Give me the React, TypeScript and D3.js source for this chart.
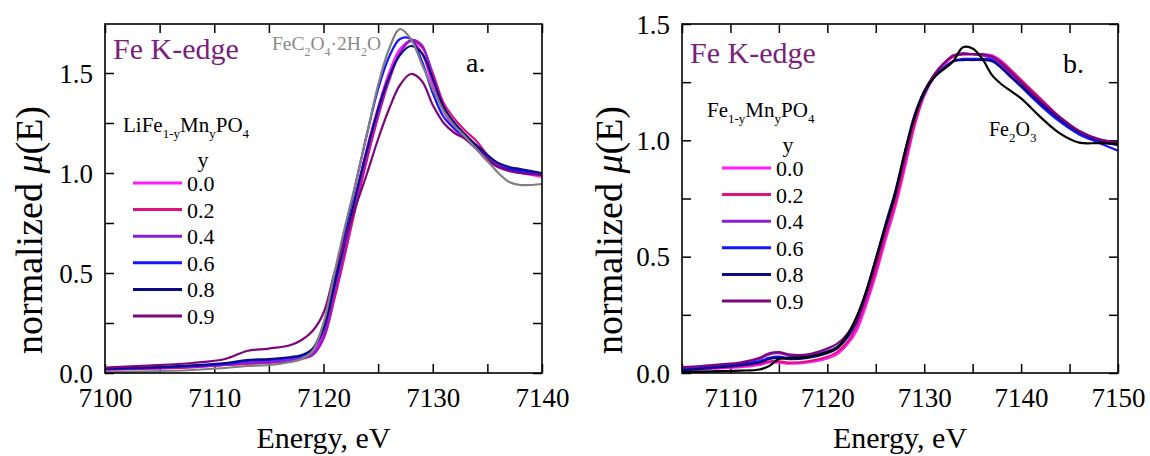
import React, { useEffect, useRef } from "react";
import * as d3 from "d3";

// composition labels (y in LiFe1-yMnyPO4 / Fe1-yMnyPO4) and their colours
const compositions = ["0.0", "0.2", "0.4", "0.6", "0.8", "0.9"];
const seriesColors = ["#ff1aff", "#e0107c", "#8a1ed4", "#1414ff", "#0b0b82", "#7d067d"];

// panel a: LiFe1-yMnyPO4, energy grid (eV)
const energyA = [7100, 7104, 7108, 7111, 7113, 7115, 7117, 7118, 7119, 7120, 7121, 7122, 7123, 7124, 7125, 7126, 7127, 7128, 7129, 7130, 7131, 7132, 7133, 7134, 7135, 7136, 7137, 7138, 7140];
const lfmp00 = [0.015, 0.022, 0.03, 0.04, 0.05, 0.057, 0.065, 0.075, 0.1, 0.2, 0.42, 0.65, 0.9, 1.13, 1.33, 1.5, 1.62, 1.66, 1.6, 1.44, 1.31, 1.22, 1.17, 1.12, 1.06, 1.03, 1.01, 1.0, 0.98];
const lfmp02 = [0.018, 0.022, 0.028, 0.04, 0.045, 0.05, 0.06, 0.07, 0.09, 0.17, 0.37, 0.6, 0.84, 1.07, 1.28, 1.46, 1.6, 1.66, 1.63, 1.5, 1.35, 1.27, 1.21, 1.16, 1.09, 1.04, 1.02, 1.01, 0.99];
const lfmp04 = [0.02, 0.025, 0.032, 0.042, 0.05, 0.055, 0.063, 0.072, 0.09, 0.18, 0.4, 0.63, 0.87, 1.1, 1.3, 1.47, 1.6, 1.665, 1.64, 1.48, 1.33, 1.24, 1.19, 1.13, 1.08, 1.04, 1.02, 1.01, 0.99];
const lfmp06 = [0.02, 0.025, 0.035, 0.045, 0.06, 0.065, 0.075, 0.085, 0.12, 0.24, 0.47, 0.71, 0.96, 1.2, 1.42, 1.58, 1.67, 1.67, 1.56, 1.4, 1.28, 1.22, 1.18, 1.13, 1.07, 1.03, 1.02, 1.01, 0.995];
const lfmp08 = [0.022, 0.028, 0.038, 0.05, 0.065, 0.07, 0.08, 0.09, 0.12, 0.22, 0.44, 0.67, 0.9, 1.12, 1.32, 1.48, 1.59, 1.635, 1.6, 1.47, 1.33, 1.25, 1.19, 1.14, 1.09, 1.05, 1.03, 1.02, 1.0];
const lfmp09 = [0.027, 0.037, 0.05, 0.07, 0.11, 0.122, 0.14, 0.165, 0.21, 0.3, 0.5, 0.67, 0.84, 1.0, 1.17, 1.32, 1.44, 1.495, 1.46, 1.34, 1.25, 1.2, 1.17, 1.12, 1.07, 1.03, 1.01, 1.0, 0.99];
const feOxalate = [0.005, 0.008, 0.015, 0.025, 0.035, 0.04, 0.055, 0.07, 0.11, 0.25, 0.5, 0.74, 0.96, 1.2, 1.44, 1.62, 1.72, 1.67, 1.545, 1.42, 1.31, 1.235, 1.18, 1.12, 1.06, 1.0, 0.955, 0.94, 0.945];

// panel b: Fe1-yMnyPO4, energy grid (eV)
const energyB = [7105, 7107, 7109, 7111, 7113, 7114, 7115, 7116, 7118, 7120, 7121, 7122, 7123, 7124, 7125, 7126, 7127, 7128, 7129, 7130, 7131, 7132, 7133, 7134, 7135, 7136, 7137, 7138, 7139, 7140, 7142, 7144, 7146, 7148, 7150];
const fmp00 = [0.012, 0.016, 0.02, 0.025, 0.035, 0.045, 0.045, 0.04, 0.045, 0.062, 0.08, 0.12, 0.18, 0.29, 0.42, 0.57, 0.71, 0.88, 1.06, 1.19, 1.27, 1.32, 1.36, 1.37, 1.37, 1.37, 1.365, 1.34, 1.3, 1.255, 1.17, 1.09, 1.03, 1.0, 0.985];
const fmp02 = [0.015, 0.02, 0.025, 0.03, 0.04, 0.05, 0.05, 0.045, 0.05, 0.07, 0.09, 0.13, 0.2, 0.31, 0.44, 0.59, 0.73, 0.9, 1.07, 1.2, 1.28, 1.33, 1.36, 1.37, 1.37, 1.37, 1.36, 1.335, 1.3, 1.26, 1.18, 1.1, 1.04, 1.005, 0.99];
const fmp04 = [0.02, 0.027, 0.033, 0.04, 0.06, 0.08, 0.085, 0.075, 0.075, 0.095, 0.11, 0.15, 0.22, 0.33, 0.47, 0.62, 0.76, 0.93, 1.1, 1.21, 1.28, 1.33, 1.365, 1.375, 1.37, 1.365, 1.35, 1.32, 1.28, 1.24, 1.16, 1.09, 1.035, 1.0, 0.98];
const fmp06 = [0.015, 0.022, 0.03, 0.038, 0.05, 0.065, 0.07, 0.065, 0.07, 0.09, 0.11, 0.15, 0.23, 0.35, 0.49, 0.64, 0.78, 0.95, 1.11, 1.21, 1.27, 1.31, 1.34, 1.35, 1.35, 1.35, 1.345, 1.31, 1.27, 1.23, 1.15, 1.08, 1.025, 0.99, 0.955];
const fmp08 = [0.012, 0.018, 0.025, 0.033, 0.045, 0.06, 0.065, 0.06, 0.065, 0.085, 0.105, 0.15, 0.22, 0.34, 0.48, 0.63, 0.77, 0.94, 1.1, 1.2, 1.27, 1.31, 1.34, 1.345, 1.345, 1.345, 1.34, 1.31, 1.27, 1.235, 1.16, 1.09, 1.035, 1.0, 0.98];
const fmp09 = [0.025, 0.03, 0.037, 0.045, 0.065, 0.085, 0.09, 0.08, 0.08, 0.105, 0.125, 0.165, 0.23, 0.34, 0.47, 0.62, 0.76, 0.93, 1.1, 1.21, 1.28, 1.33, 1.365, 1.37, 1.37, 1.37, 1.36, 1.33, 1.29, 1.25, 1.17, 1.1, 1.04, 1.005, 0.99];
const fe2o3 = [0.005, 0.006, 0.008, 0.01, 0.015, 0.03, 0.06, 0.065, 0.07, 0.09, 0.11, 0.16, 0.24, 0.35, 0.49, 0.63, 0.77, 0.95, 1.1, 1.21, 1.27, 1.305, 1.34, 1.4, 1.395, 1.35, 1.28, 1.24, 1.21, 1.18, 1.1, 1.03, 0.99, 0.988, 0.985];

// axis ticks
const xTicksA = [7100, 7105, 7110, 7115, 7120, 7125, 7130, 7135, 7140];
const xTicksB = [7105, 7110, 7115, 7120, 7125, 7130, 7135, 7140, 7145, 7150];
const yTicks = [0, 0.25, 0.5, 0.75, 1.0, 1.25, 1.5];

const FONT = "Liberation Serif";
const EDGE = "#7b1f7b";

// text with subscripts: parts = [[text, isSub]]
function formula(g, x, y, parts, size, subSize, color) {
  const t = g.append("text").attr("x", x).attr("y", y)
    .style("font-family", FONT).attr("fill", color).style("font-size", size + "px");
  let down = false;
  parts.forEach(([s, sub]) => {
    const dy = sub && !down ? 6 : !sub && down ? -6 : 0;
    down = sub;
    t.append("tspan").attr("dy", dy).style("font-size", (sub ? subSize : size) + "px").text(s);
  });
  return t;
}

function drawPanel(svg, p) {
  const x = d3.scaleLinear().domain(p.xDomain).range([p.left, p.right]);
  const y = d3.scaleLinear().domain(p.yDomain).range([p.bottom, p.top]);
  const g = svg.append("g");

  const styleAxis = (a) => {
    a.attr("font-family", null).attr("font-size", null);
    a.select(".domain").remove();
    a.selectAll(".tick line").attr("stroke", "#000").attr("stroke-width", 1.5);
    a.selectAll("text").style("font-family", FONT).style("font-size", "27px").attr("fill", "#000");
  };

  const labelX = (d) => (d % 10 === 0 ? String(d) : "");
  const labelY = (d) => ((d * 2) % 1 === 0 ? d.toFixed(1) : "");

  const bottom = g.append("g").attr("transform", `translate(0,${p.bottom})`)
    .call(d3.axisBottom(x).tickValues(p.xTicks).tickSize(-9).tickFormat(labelX));
  styleAxis(bottom);
  bottom.selectAll("text").attr("y", 34).attr("dy", 0);

  const top = g.append("g").attr("transform", `translate(0,${p.top})`)
    .call(d3.axisTop(x).tickValues(p.xTicks).tickSize(-9).tickFormat(() => ""));
  styleAxis(top);

  const left = g.append("g").attr("transform", `translate(${p.left},0)`)
    .call(d3.axisLeft(y).tickValues(yTicks.filter((v) => v <= p.yDomain[1])).tickSize(-9).tickFormat(labelY));
  styleAxis(left);
  left.selectAll("text").attr("x", -12).attr("dy", "0.34em");

  const right = g.append("g").attr("transform", `translate(${p.right},0)`)
    .call(d3.axisRight(y).tickValues(yTicks.filter((v) => v <= p.yDomain[1])).tickSize(-9).tickFormat(() => ""));
  styleAxis(right);

  // curves
  const line = d3.line()
    .x((d) => x(d[0]))
    .y((d) => y(d[1]))
    .curve(d3.curveCatmullRom.alpha(0.5));

  const clipId = "clip" + p.name;
  g.append("clipPath").attr("id", clipId).append("rect")
    .attr("x", p.left).attr("y", p.top).attr("width", p.right - p.left).attr("height", p.bottom - p.top);

  const curves = g.append("g").attr("clip-path", `url(#${clipId})`);
  p.series.forEach((s) => {
    curves.append("path")
      .datum(p.energy.map((e, i) => [e, s.values[i]]))
      .attr("fill", "none")
      .attr("stroke", s.color)
      .attr("stroke-width", 2.2)
      .attr("stroke-linejoin", "round")
      .attr("d", line);
  });

  // frame
  g.append("rect")
    .attr("x", p.left).attr("y", p.top)
    .attr("width", p.right - p.left).attr("height", p.bottom - p.top)
    .attr("fill", "none").attr("stroke", "#000").attr("stroke-width", 1.6);

  // axis titles
  g.append("text")
    .attr("x", (p.left + p.right) / 2).attr("y", 448)
    .attr("text-anchor", "middle").style("font-family", FONT).style("font-size", "30px")
    .text("Energy, eV");

  const yl = g.append("text")
    .attr("transform", `translate(${p.yLabelX},230) rotate(-90)`)
    .attr("text-anchor", "middle").style("font-family", FONT).style("font-size", "38px");
  yl.append("tspan").text("normalized ");
  yl.append("tspan").style("font-style", "italic").text("μ");
  yl.append("tspan").text("(E)");

  // Fe K-edge and panel letter
  g.append("text").attr("x", p.left + 8).attr("y", p.edgeY)
    .style("font-family", FONT).style("font-size", "30px").attr("fill", EDGE).text("Fe K-edge");
  g.append("text").attr("x", p.letterX).attr("y", p.letterY)
    .style("font-family", FONT).style("font-size", "28px").text(p.letter);

  // legend
  const lg = p.legend;
  formula(g, lg.x, lg.titleY, lg.title, 21, 13, "#000");
  g.append("text").attr("x", lg.yX).attr("y", lg.titleY + 35)
    .attr("text-anchor", "middle").style("font-family", FONT).style("font-size", "22px").text("y");
  compositions.forEach((c, i) => {
    const ly = lg.rowY + i * 26.6;
    g.append("line").attr("x1", lg.lineX).attr("x2", lg.lineX + 49)
      .attr("y1", ly).attr("y2", ly)
      .attr("stroke", seriesColors[i]).attr("stroke-width", 3);
    g.append("text").attr("x", lg.lineX + 54).attr("y", ly + 8)
      .style("font-family", FONT).style("font-size", "22px").text(c);
  });

  // reference compound label
  const r = p.refLabel;
  formula(g, r.x, r.y, r.parts, r.size, r.subSize, r.color);
}

const App = () => {
  const ref = useRef(null);

  useEffect(() => {
    const svg = d3.select(ref.current);
    svg.selectAll("*").remove();

    drawPanel(svg, {
      name: "a",
      left: 105, right: 542, top: 24, bottom: 373,
      xDomain: [7100, 7140], yDomain: [0, 1.745],
      xTicks: xTicksA,
      energy: energyA,
      series: [
        { values: lfmp00, color: seriesColors[0] },
        { values: lfmp02, color: seriesColors[1] },
        { values: lfmp04, color: seriesColors[2] },
        { values: lfmp06, color: seriesColors[3] },
        { values: lfmp08, color: seriesColors[4] },
        { values: lfmp09, color: seriesColors[5] },
        { values: feOxalate, color: "#808080" },
      ],
      yLabelX: 42,
      edgeY: 59,
      letter: "a.", letterX: 466, letterY: 72,
      legend: {
        x: 123, titleY: 132, yX: 203, rowY: 183, lineX: 133,
        title: [["LiFe", false], ["1-y", true], ["Mn", false], ["y", true], ["PO", false], ["4", true]],
      },
      refLabel: {
        x: 272, y: 50, size: 19.5, subSize: 12, color: "#8a8a8a",
        parts: [["FeC", false], ["2", true], ["O", false], ["4", true], ["·2H", false], ["2", true], ["O", false]],
      },
    });

    drawPanel(svg, {
      name: "b",
      left: 682, right: 1118, top: 24, bottom: 373,
      xDomain: [7105, 7150], yDomain: [0, 1.5],
      xTicks: xTicksB,
      energy: energyB,
      series: [
        { values: fmp00, color: seriesColors[0] },
        { values: fmp02, color: seriesColors[1] },
        { values: fmp04, color: seriesColors[2] },
        { values: fmp06, color: seriesColors[3] },
        { values: fmp08, color: seriesColors[4] },
        { values: fmp09, color: seriesColors[5] },
        { values: fe2o3, color: "#000" },
      ],
      yLabelX: 622,
      edgeY: 63,
      letter: "b.", letterX: 1063, letterY: 73,
      legend: {
        x: 707, titleY: 117, yX: 788, rowY: 168, lineX: 722,
        title: [["Fe", false], ["1-y", true], ["Mn", false], ["y", true], ["PO", false], ["4", true]],
      },
      refLabel: {
        x: 989, y: 136, size: 20, subSize: 13, color: "#000",
        parts: [["Fe", false], ["2", true], ["O", false], ["3", true]],
      },
    });
  }, []);

  return (
    <svg ref={ref} width={1150} height={456}
      style={{ position: "absolute", left: 0, top: 0, background: "#fff", fontFamily: FONT }} />
  );
};

export default App;
